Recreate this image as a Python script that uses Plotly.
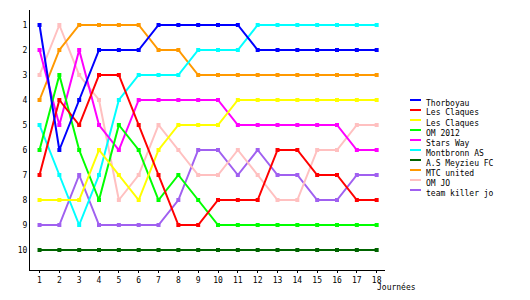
import plotly.graph_objects as go

journees = list(range(1, 19))
teams = ["Thorboyau", "Les Claques", "Les Claques", "OM 2012", "Stars Way",
         "Montbronn AS", "A.S Meyzieu FC", "MTC united", "OM JO", "team killer jo"]
colors = ["#0000FF", "#FF0000", "#FFFF00", "#00FF00", "#FF00FF",
          "#00FFFF", "#006400", "#FF9900", "#FFC0C0", "#A060F0"]

thorboyau   = [1, 6, 4, 2, 2, 2, 1, 1, 1, 1, 1, 2, 2, 2, 2, 2, 2, 2]
claques_r   = [7, 4, 5, 3, 3, 5, 7, 9, 9, 8, 8, 8, 6, 6, 7, 7, 8, 8]
claques_y   = [8, 8, 8, 6, 7, 8, 6, 5, 5, 5, 4, 4, 4, 4, 4, 4, 4, 4]
om2012      = [6, 3, 6, 8, 5, 6, 8, 7, 8, 9, 9, 9, 9, 9, 9, 9, 9, 9]
stars_way   = [2, 5, 2, 5, 6, 4, 4, 4, 4, 4, 5, 5, 5, 5, 5, 5, 6, 6]
montbronn   = [5, 7, 9, 7, 4, 3, 3, 3, 2, 2, 2, 1, 1, 1, 1, 1, 1, 1]
meyzieu     = [10] * 18
mtc_united  = [4, 2, 1, 1, 1, 1, 2, 2, 3, 3, 3, 3, 3, 3, 3, 3, 3, 3]
om_jo       = [3, 1, 3, 4, 8, 7, 5, 6, 7, 7, 6, 7, 8, 8, 6, 6, 5, 5]
team_killer = [9, 9, 7, 9, 9, 9, 9, 8, 6, 6, 7, 6, 7, 7, 8, 8, 7, 7]

series = [thorboyau, claques_r, claques_y, om2012, stars_way,
          montbronn, meyzieu, mtc_united, om_jo, team_killer]
rank_ticks = list(range(1, 11))

FONT = "DejaVu Sans Mono"
fig = go.Figure()
# draw in reverse order so first series are on top
for name, vals, col in reversed(list(zip(teams, series, colors))):
    fig.add_trace(go.Scatter(
        x=journees, y=vals, name=name, mode="lines+markers",
        line=dict(color=col, width=2),
        marker=dict(symbol="square", size=4, color=col),
        showlegend=False, hoverinfo="skip"))

# manual compact legend
L, R, T, B = 30, 145, 10, 30
W, H = 530 - L - R, 300 - T - B
for i, (name, col) in enumerate(zip(teams, colors)):
    ypix = 103 + i * 10
    yp = 1 - (ypix - T) / H
    x0 = (410 - L) / W
    x1 = (421 - L) / W
    fig.add_shape(type="line", xref="paper", yref="paper",
                  x0=x0, x1=x1, y0=yp + 3 / H, y1=yp + 3 / H,
                  line=dict(color=col, width=2))
    fig.add_annotation(x=(424 - L) / W, y=yp, xref="paper", yref="paper",
                       text=name, showarrow=False, xanchor="left", yanchor="middle",
                       font=dict(family=FONT, size=8, color="black"))

fig.add_annotation(x=(375 - L) / W, y=0, xref="paper", yref="paper", yshift=-17,
                   text="Journées", showarrow=False, xanchor="left", yanchor="middle",
                   font=dict(family=FONT, size=8, color="black"))

fig.update_layout(
    width=530, height=300,
    margin=dict(l=L, r=R, t=T, b=B),
    paper_bgcolor="white", plot_bgcolor="white",
    font=dict(family=FONT, size=8, color="black"),
    showlegend=False,
    xaxis=dict(range=[0.52, 18.42], tickvals=journees, ticktext=[str(j) for j in journees],
               showgrid=False, zeroline=False, showline=True, linecolor="black", linewidth=1,
               ticks="outside", ticklen=2, tickcolor="black", ticklabelstandoff=0,
               fixedrange=True),
    yaxis=dict(range=[10.8, 0.4], tickvals=rank_ticks, ticktext=[str(r) for r in rank_ticks],
               showgrid=False, zeroline=False, showline=True, linecolor="black", linewidth=1,
               ticks="", fixedrange=True),
)

fig.write_html("out.html")
